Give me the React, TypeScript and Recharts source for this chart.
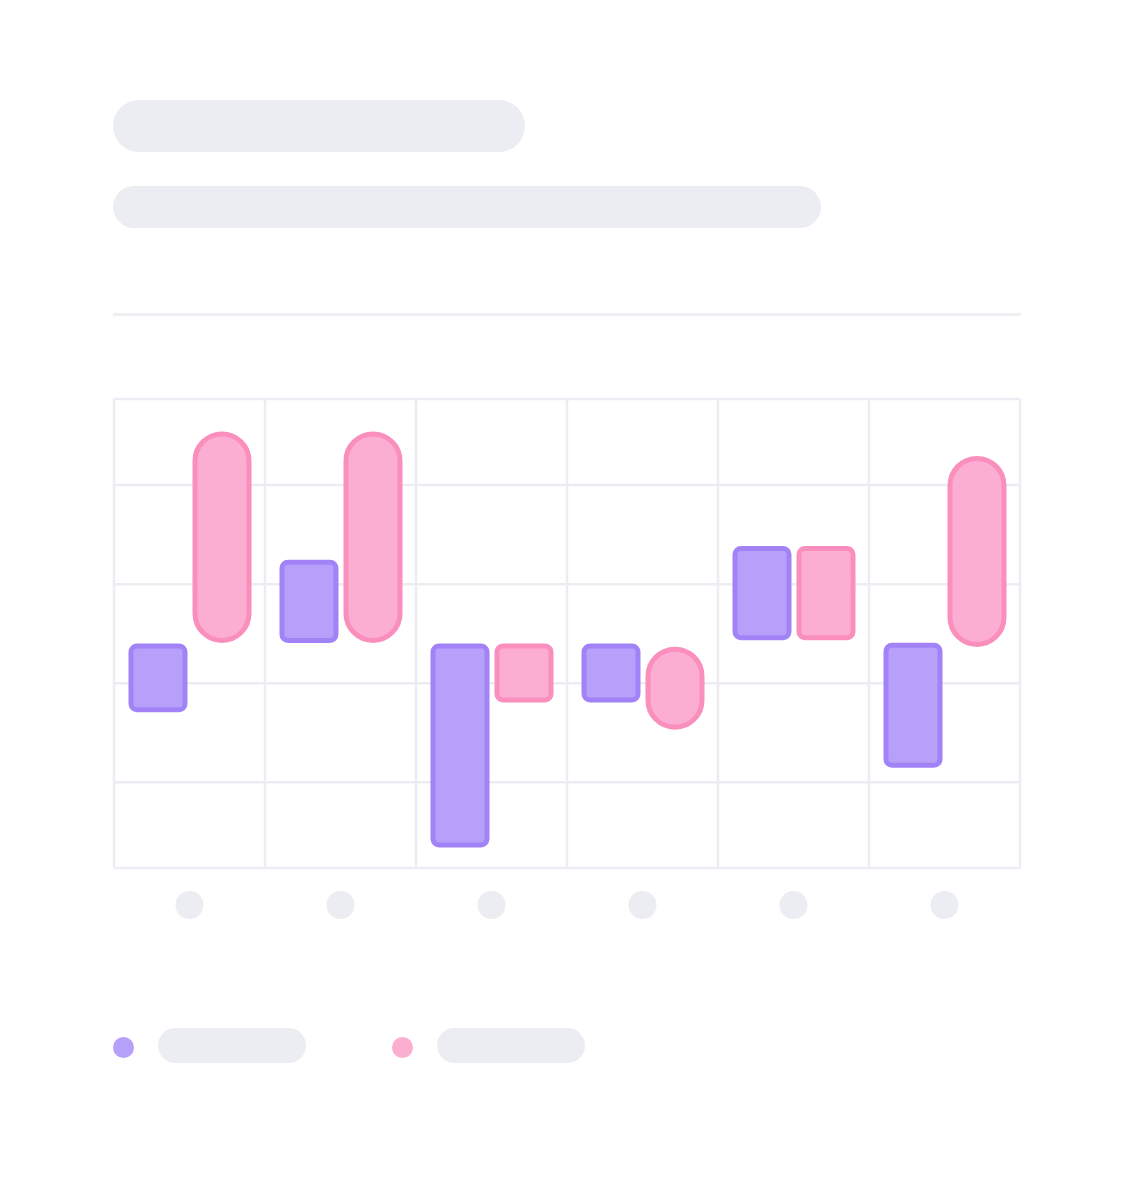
import React from "react";
import {
  BarChart,
  Bar,
  XAxis,
  YAxis,
  CartesianGrid,
  Legend,
  Rectangle,
} from "recharts";

// categories (skeleton placeholders, labels drawn as grey dots)
const categories = ["A", "B", "C", "D", "E", "F"];
// floating ranges [low, high] for each series
const seriesA: [number, number][] = [
  [18.3, 34.4],
  [35.8, 55.5],
  [-15.8, 34.4],
  [20.8, 34.4],
  [36.5, 59.0],
  [4.3, 34.6],
];
const seriesB: [number, number][] = [
  [35.8, 87.9],
  [35.8, 87.9],
  [20.8, 34.4],
  [13.9, 33.6],
  [36.5, 59.0],
  [34.8, 81.7],
];
const yTicks = [-21.6, 0, 25, 50, 75, 96.7];

const chartData = categories.map((c, i) => ({
  name: c,
  a: seriesA[i],
  b: seriesB[i],
}));

const GREY = "#ecedf2";
const PURPLE = "#b7a0f9";
const PURPLE_STROKE = "#a283f7";
const PINK = "#fcaed2";
const PINK_STROKE = "#fa8fbd";

// corner radius per bar (100 = fully rounded pill)
const radiusA = [6, 6, 6, 6, 6, 6];
const radiusB = [100, 100, 6, 100, 6, 100];

const DotTick = (props: any) => {
  const { x, y } = props;
  return <circle cx={x} cy={y + 37} r={14} fill={GREY} />;
};

const SkeletonLegend = (props: any) => {
  const { payload = [] } = props;
  return (
    <div style={{ display: "flex", alignItems: "center", height: 35 }}>
      {payload.map((entry: any, i: number) => (
        <div
          key={i}
          style={{ display: "flex", alignItems: "center", marginRight: 86 }}
        >
          <div
            style={{
              width: 21,
              height: 21,
              borderRadius: "50%",
              background: entry.color,
              marginRight: 24,
              marginTop: 4,
            }}
          />
          <div
            style={{
              width: 148,
              height: 35,
              borderRadius: 17.5,
              background: GREY,
            }}
          />
        </div>
      ))}
    </div>
  );
};

export default function App() {
  return (
    <div
      style={{
        position: "absolute",
        left: 0,
        top: 0,
        width: 1135,
        height: 1178,
        background: "#ffffff",
        overflow: "hidden",
      }}
    >
      {/* title + subtitle placeholders */}
      <div
        style={{
          position: "absolute",
          left: 113,
          top: 100,
          width: 412,
          height: 52,
          borderRadius: 26,
          background: GREY,
        }}
      />
      <div
        style={{
          position: "absolute",
          left: 113,
          top: 186,
          width: 708,
          height: 42,
          borderRadius: 21,
          background: GREY,
        }}
      />
      <div
        style={{
          position: "absolute",
          left: 113,
          top: 313,
          width: 908,
          height: 2.5,
          background: "#eeeef3",
        }}
      />

      <div style={{ position: "absolute", left: 0, top: 380 }}>
        <BarChart
          width={1135}
          height={720}
          data={chartData}
          margin={{ top: 19, right: 115, left: 114, bottom: 172 }}
          barSize={54}
          barGap={10}
        >
          <CartesianGrid
            stroke={GREY}
            strokeWidth={2.5}
            verticalCoordinatesGenerator={({ offset }: any) =>
              Array.from(
                { length: categories.length + 1 },
                (_, i) => offset.left + (i * offset.width) / categories.length
              )
            }
          />
          <XAxis
            dataKey="name"
            axisLine={false}
            tickLine={false}
            tickSize={0}
            tickMargin={0}
            height={60}
            tick={<DotTick />}
            interval={0}
          />
          <YAxis hide domain={[-21.6, 96.7]} ticks={yTicks} type="number" />
          <Legend
            verticalAlign="middle"
            align="center"
            layout="horizontal"
            width={700}
            wrapperStyle={{ left: 113, top: 648 }}
            content={<SkeletonLegend />}
          />
          <Bar
            dataKey="a"
            fill={PURPLE}
            stroke={PURPLE_STROKE}
            strokeWidth={5}
            isAnimationActive={false}
            shape={(p: any) => (
              <Rectangle {...p} radius={radiusA[p.index]} />
            )}
          />
          <Bar
            dataKey="b"
            fill={PINK}
            stroke={PINK_STROKE}
            strokeWidth={5}
            isAnimationActive={false}
            shape={(p: any) => (
              <Rectangle {...p} radius={radiusB[p.index]} />
            )}
          />
        </BarChart>
      </div>
    </div>
  );
}
